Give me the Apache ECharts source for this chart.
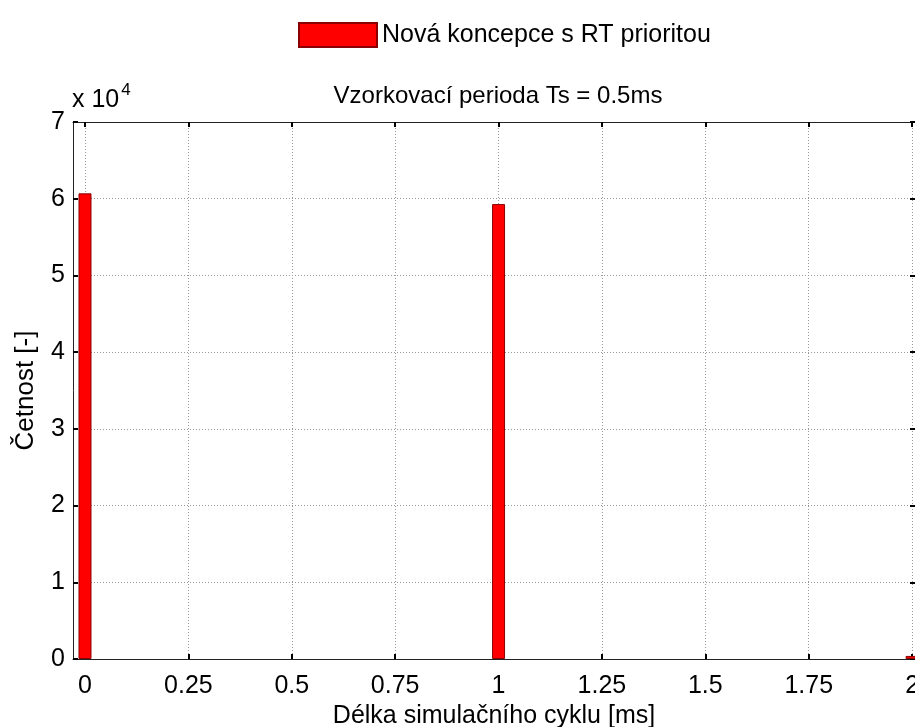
<!DOCTYPE html>
<html>
<head>
<meta charset="utf-8">
<script src="https://cdn.jsdelivr.net/npm/echarts@6/dist/echarts.min.js"></script>
<style>
  html, body { margin: 0; padding: 0; background: #fff; }
  #chart { width: 915px; height: 727px; }
</style>
</head>
<body>
<div id="chart"></div>
<script>
// histogram bins (ms) and counts
const binCenters = [0, 1, 2];
const counts = [60700, 59300, 400];
const xTicks = [0, 0.25, 0.5, 0.75, 1, 1.25, 1.5, 1.75, 2];
const seriesName = 'Nová koncepce s RT prioritou';

const font = 'Liberation Sans, Arial, sans-serif';
const chart = echarts.init(document.getElementById('chart'));

// plot box is cut off at the right edge of the picture
const xCommon = {
  type: 'value',
  min: -0.029,
  max: 2.007,
  axisLine: { show: true, onZero: false, lineStyle: { color: '#222', width: 1 } },
  axisTick: { show: true, inside: true, length: 5, customValues: xTicks, lineStyle: { color: '#000', width: 2 } },
  splitLine: { show: false }
};

chart.setOption({
  animation: false,
  title: {
    text: 'Vzorkovací perioda Ts = 0.5ms',
    left: 493, top: 79, textAlign: 'center',
    textStyle: { fontFamily: font, fontSize: 24, fontWeight: 'normal', color: '#000' }
  },
  legend: {
    left: 293, top: 17,
    itemWidth: 78, itemHeight: 24, itemGap: 8,
    icon: 'rect',
    textStyle: { fontFamily: font, fontSize: 25, color: '#000' },
    data: [seriesName]
  },
  grid: { left: 73, right: 0, top: 122, bottom: 68, outerBoundsMode: 'none' },
  xAxis: [
    Object.assign({}, xCommon, {
      position: 'bottom',
      name: 'Délka simulačního cyklu [ms]',
      nameLocation: 'middle',
      nameGap: 44,
      nameTextStyle: { fontFamily: font, fontSize: 25, color: '#000' },
      axisLabel: { customValues: xTicks, fontFamily: font, fontSize: 25, color: '#000', margin: 15 },
      splitLine: { show: true, lineStyle: { color: '#999', type: [1, 2], width: 1 } }
    }),
    Object.assign({}, xCommon, {
      position: 'top',
      axisLabel: { show: false }
    })
  ],
  yAxis: [
    {
      type: 'value', min: 0, max: 70000, interval: 10000,
      position: 'left',
      name: 'Četnost [-]',
      nameLocation: 'middle',
      nameGap: 34,
      nameTextStyle: { fontFamily: font, fontSize: 26, color: '#000' },
      axisLine: { show: true, onZero: false, lineStyle: { color: '#222', width: 1 } },
      axisTick: { show: true, inside: true, length: 5, lineStyle: { color: '#000', width: 2 } },
      axisLabel: { fontFamily: font, fontSize: 25, color: '#000', margin: 8, formatter: v => String(v / 10000) },
      splitLine: { show: true, lineStyle: { color: '#999', type: [1, 2], width: 1 } }
    },
    {
      type: 'value', min: 0, max: 70000, interval: 10000,
      position: 'right',
      axisLine: { show: true, onZero: false, lineStyle: { color: '#222', width: 1 } },
      axisTick: { show: true, inside: true, length: 5, lineStyle: { color: '#000', width: 2 } },
      axisLabel: { show: false },
      splitLine: { show: false }
    }
  ],
  graphic: [{
    type: 'text',
    left: 72, top: 82,
    style: {
      text: '{b|x 10}{s|4}',
      rich: {
        b: { fontFamily: font, fontSize: 25, color: '#000', verticalAlign: 'bottom' },
        s: { fontFamily: font, fontSize: 17, color: '#000', verticalAlign: 'top', padding: [0, 0, 14, 2] }
      }
    }
  }],
  series: [{
    name: seriesName,
    type: 'bar',
    clip: false,
    barWidth: 13,
    data: binCenters.map((x, i) => [x, counts[i]]),
    itemStyle: { color: '#ff0000', borderColor: '#8b0000', borderWidth: 1 }
  }]
});
</script>
</body>
</html>
